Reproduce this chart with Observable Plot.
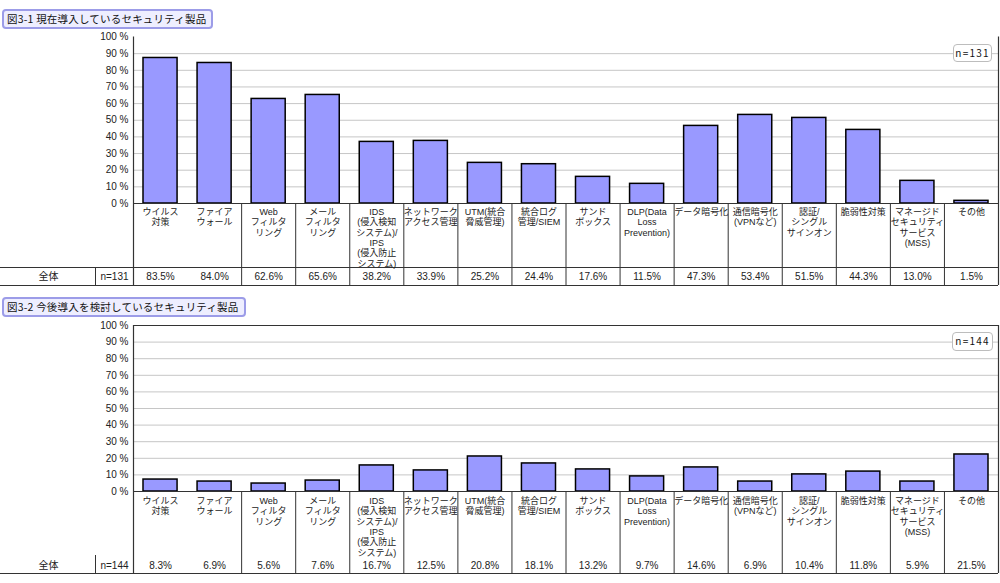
<!DOCTYPE html>
<html><head><meta charset="utf-8">
<script src="https://cdn.jsdelivr.net/npm/d3@7"></script>
<script src="https://cdn.jsdelivr.net/npm/@observablehq/plot@0.6"></script>
<style>
html,body{margin:0;padding:0;background:#fff;}
body{width:1000px;height:583px;position:relative;overflow:hidden;font-family:"Noto Sans CJK JP","Noto Sans",sans-serif;}
.title{position:absolute;left:2px;height:16px;border:2px solid #9c9ce8;border-radius:4px;background:#eeeeff;font-size:10.5px;line-height:16px;padding:0 5px 0 3px;color:#111;white-space:nowrap;letter-spacing:0.2px;}
.nbox{position:absolute;border:1.5px solid #bdbdbd;border-radius:4px;background:#fff;font-size:10px;text-align:center;color:#111;letter-spacing:1.2px;box-sizing:border-box;}
.panel{position:absolute;left:0;}
.panel svg{display:block;}
</style></head><body>
<script>
// ---- data ----
const categories = [
  "ウイルス\n対策",
  "ファイア\nウォール",
  "Web\nフィルタ\nリング",
  "メール\nフィルタ\nリング",
  "IDS\n(侵入検知\nシステム)/\nIPS\n(侵入防止\nシステム)",
  "ネットワーク\nアクセス管理",
  "UTM(統合\n脅威管理)",
  "統合ログ\n管理/SIEM",
  "サンド\nボックス",
  "DLP(Data\nLoss\nPrevention)",
  "データ暗号化",
  "通信暗号化\n(VPNなど)",
  "認証/\nシングル\nサインオン",
  "脆弱性対策",
  "マネージド\nセキュリティ\nサービス\n(MSS)",
  "その他"
];
const currentValues = [87.4, 84.4, 62.8, 65.2, 37.0, 37.6, 24.4, 23.6, 16.0, 11.8, 46.6, 53.2, 51.4, 44.2, 13.6, 1.6];
const currentLabels = ["83.5%","84.0%","62.6%","65.6%","38.2%","33.9%","25.2%","24.4%","17.6%","11.5%","47.3%","53.4%","51.5%","44.3%","13.0%","1.5%"];
const futureValues = [7.2, 6.0, 4.8, 6.6, 15.7, 12.7, 21.1, 16.9, 13.3, 9.1, 14.5, 6.0, 10.3, 12.0, 6.0, 22.3];
const futureLabels = ["8.3%","6.9%","5.6%","7.6%","16.7%","12.5%","20.8%","18.1%","13.2%","9.7%","14.6%","6.9%","10.4%","11.8%","5.9%","21.5%"];
const yTicks = [0, 10, 20, 30, 40, 50, 60, 70, 80, 90, 100];
const titles = ["図3-1 現在導入しているセキュリティ製品", "図3-2 今後導入を検討しているセキュリティ製品"];
const nLabels = ["n=131", "n=144"];
const totalLabel = "全体";

// ---- layout ----
const W = 1000, mL = 133, mR = 2;
const bw = (W - mL - mR) / categories.length;
const zero = () => 0;
const tableFont = "'Liberation Sans', 'Noto Sans CJK JP', sans-serif";

function makePanel(o) {
  const rows = categories.map((c, i) => ({cat: c, v: o.values[i], label: o.labels[i]}));
  const sepCats = categories.filter((c, i) => i >= 2);
  const marks = [
    Plot.ruleY(yTicks.filter(t => t > 0 && t < 100), {stroke: "#c6c6c6", strokeWidth: 1}),
    o.topBorder ? Plot.ruleY([100], {stroke: "#333", strokeWidth: 1.2}) : null,
    Plot.barY(rows, {x: "cat", y: "v", fill: "#9999ff", stroke: "#000", strokeWidth: 1.5, insetLeft: 10, insetRight: 10}),
    Plot.ruleY([0], {stroke: "#333", strokeWidth: 1.2}),
    Plot.ruleX([categories[0]], {dx: -bw / 2, y1: () => 100, y2: zero, insetBottom: -o.tableH, stroke: "#333", strokeWidth: 1.2}),
    Plot.ruleX([categories[categories.length - 1]], {dx: bw / 2, y1: () => 100, y2: zero, insetBottom: -o.tableH, stroke: "#333", strokeWidth: 1.2}),
    Plot.ruleX(sepCats, {dx: -bw / 2, y1: zero, y2: zero, insetBottom: -o.tableH, stroke: "#333", strokeWidth: 1}),
    o.rowLine ? Plot.ruleY([0], {dy: o.rowTop, insetLeft: -mL, stroke: "#333", strokeWidth: 1}) : null,
    Plot.ruleY([0], {dy: o.tableH, insetLeft: -mL, stroke: "#333", strokeWidth: 1}),
    Plot.ruleX([categories[0]], {dx: -bw / 2 - 38, y1: zero, y2: zero, insetTop: o.rowTop, insetBottom: -o.tableH, stroke: "#333", strokeWidth: 1}),
    Plot.text(rows, {x: "cat", y: zero, text: "cat", lineAnchor: "top", dy: o.labelDy, fontSize: 9, lineHeight: 1.15, fill: "#222", fontFamily: tableFont}),
    Plot.text(rows, {x: "cat", y: zero, text: "label", dy: o.valueDy, fontSize: 10, fill: "#222", fontFamily: tableFont}),
    Plot.text([totalLabel], {y: zero, text: d => d, frameAnchor: "left", textAnchor: "middle", dx: 48 - mL, dy: o.valueDy, fontSize: 10, fill: "#222", fontFamily: tableFont}),
    Plot.text([o.n], {y: zero, text: d => d, frameAnchor: "left", textAnchor: "middle", dx: 114 - mL, dy: o.valueDy, fontSize: 10, fill: "#222", fontFamily: tableFont}),
    Plot.axisY(yTicks, {tickFormat: d => d + " %", tickSize: 0, tickPadding: 5, fontSize: 10, label: null, fill: "#222"})
  ].filter(Boolean);

  const svg = Plot.plot({
    width: W,
    height: o.height,
    marginLeft: mL,
    marginRight: mR,
    marginTop: o.mTop,
    marginBottom: o.mBottom,
    style: {fontFamily: tableFont, fontSize: "10px", background: "transparent", overflow: "visible"},
    x: {type: "band", domain: categories, padding: 0, round: false, axis: null},
    y: {domain: [0, 100], axis: null},
    marks
  });
  const div = document.createElement("div");
  div.className = "panel";
  div.style.top = o.top + "px";
  div.appendChild(svg);
  document.body.appendChild(div);

  const t = document.createElement("div");
  t.className = "title";
  t.style.top = o.titleTop + "px";
  t.textContent = o.title;
  document.body.appendChild(t);

  const nb = document.createElement("div");
  nb.className = "nbox";
  Object.assign(nb.style, {left: o.nbox[0] + "px", top: o.nbox[1] + "px", width: o.nbox[2] + "px", height: o.nbox[3] + "px", lineHeight: (o.nbox[3] - 3) + "px"});
  nb.textContent = o.n;
  document.body.appendChild(nb);
}

makePanel({values: currentValues, labels: currentLabels, n: nLabels[0], title: titles[0], titleTop: 9,
  top: 30, height: 260, mTop: 6.5, mBottom: 87, tableH: 82, rowTop: 64, rowLine: true,
  labelDy: 4, valueDy: 73.5, topBorder: false, nbox: [953, 44, 39, 18]});
makePanel({values: futureValues, labels: futureLabels, n: nLabels[1], title: titles[1], titleTop: 297,
  top: 318, height: 265, mTop: 7, mBottom: 92, tableH: 82, rowTop: 64, rowLine: false,
  labelDy: 5, valueDy: 74, topBorder: true, nbox: [952, 332, 41, 19]});
</script>
</body></html>
